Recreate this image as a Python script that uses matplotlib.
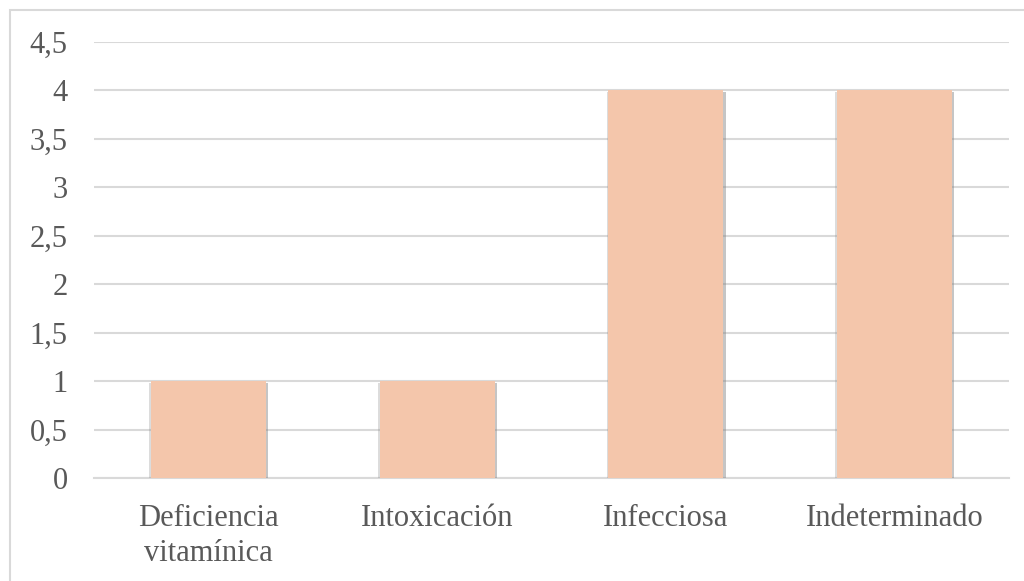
import matplotlib.pyplot as plt
import matplotlib.patheffects as pe
from matplotlib.patches import Rectangle

# --- DATOS ---
categorias = ["Deficiencia\nvitamínica", "Intoxicación", "Infecciosa", "Indeterminado"]
valores = [1, 1, 4, 4]
marcas_y = [0, 0.5, 1, 1.5, 2, 2.5, 3, 3.5, 4, 4.5]
etiquetas_y = ["0", "0,5", "1", "1,5", "2", "2,5", "3", "3,5", "4", "4,5"]

plt.rcParams['font.family'] = ['Liberation Serif', 'DejaVu Serif']

fig = plt.figure(figsize=(10.24, 5.81), dpi=100)
ax = fig.add_axes([0.0918, 0.1773, 0.8936, 0.7509])

# marco gris alrededor del gráfico
fig.patches.append(Rectangle((9.5 / 1024, -0.05), 1.2, 1 - 10.5 / 581 + 0.05,
                             transform=fig.transFigure, fill=False,
                             edgecolor='#d9d9d9', linewidth=1.5))

x = range(len(categorias))
barras = ax.bar(x, valores, width=0.503, color='#f4c6ab', zorder=3)
for b in barras:
    b.set_path_effects([pe.SimplePatchShadow(offset=(-1.2, -1.2), shadow_rgbFace='#8c8c8c', alpha=0.3),
                        pe.SimplePatchShadow(offset=(1.5, -1.5), shadow_rgbFace='#7f7f7f', alpha=0.45),
                        pe.Normal()])

ax.set_xlim(-0.5, len(categorias) - 0.5)
ax.set_ylim(0, 4.5)
ax.set_yticks(marcas_y)
ax.set_yticklabels(etiquetas_y)
ax.set_xticks(list(x))
ax.set_xticklabels(categorias, linespacing=1.25)

ax.grid(axis='y', color='#d9d9d9', linewidth=1.5, zorder=0)
for lado in ['top', 'right', 'left']:
    ax.spines[lado].set_visible(False)
ax.spines['bottom'].set_color('#d9d9d9')
ax.spines['bottom'].set_linewidth(1.5)

ax.tick_params(axis='both', length=0, labelsize=22, labelcolor='#595959')
ax.tick_params(axis='y', pad=19)
ax.tick_params(axis='x', pad=19)

plt.savefig('out.png', dpi=100)
